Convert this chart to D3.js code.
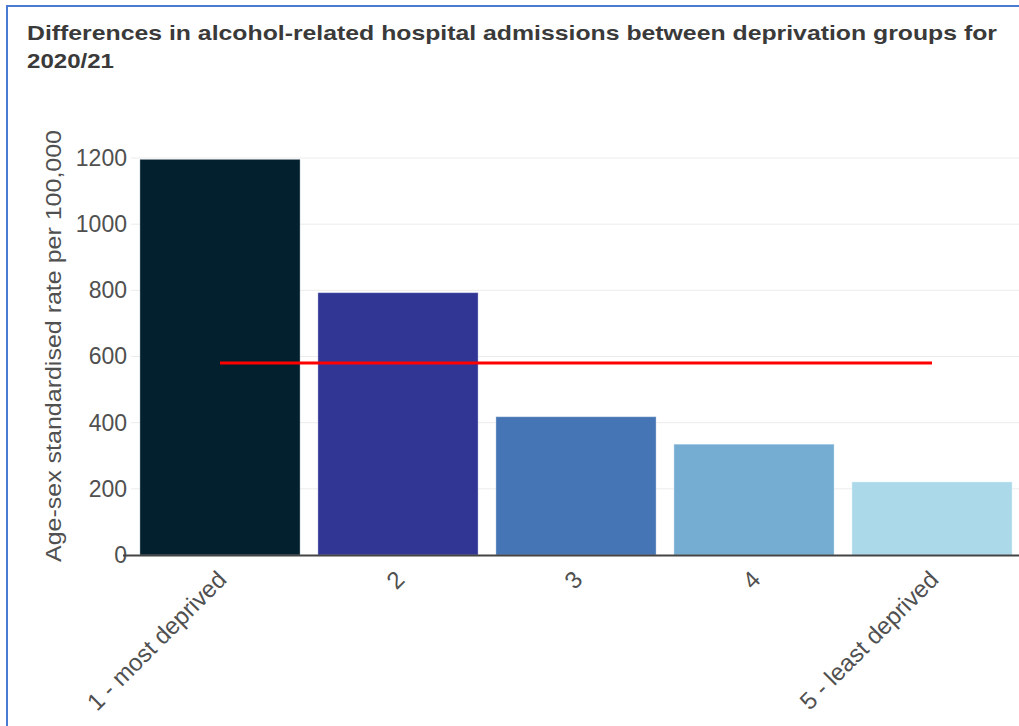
<!DOCTYPE html>
<html>
<head>
<meta charset="utf-8">
<script src="https://cdn.jsdelivr.net/npm/d3@7"></script>
<style>
  html, body { margin: 0; padding: 0; background: #fff; }
  svg { display: block; font-family: "Liberation Sans", Arial, sans-serif; }
</style>
</head>
<body>
<svg id="chart" width="1019" height="726"></svg>
<script>
// Deprivation quintiles and their age-sex standardised admission rates
const groups = ["1 - most deprived", "2", "3", "4", "5 - least deprived"];
const rates = [1196, 793, 418, 335, 221];
const barColors = ["#03202f", "#313695", "#4575b4", "#74add1", "#abd9e9"];
const overallRate = [580];
const yTicks = [0, 200, 400, 600, 800, 1000, 1200];

const titleLines = [
  "Differences in alcohol-related hospital admissions between deprivation groups for",
  "2020/21"
];
const titleWidths = [970, 87];
const yTitle = "Age-sex standardised rate per 100,000";

const svg = d3.select("#chart");
const W = 1019, H = 726;

// panel frame (top and left edges)
svg.append("line").attr("x1", 6).attr("x2", W).attr("y1", 6).attr("y2", 6)
  .attr("stroke", "#4a7bd0").attr("stroke-width", 2);
svg.append("line").attr("x1", 7).attr("x2", 7).attr("y1", 5).attr("y2", H)
  .attr("stroke", "#4a7bd0").attr("stroke-width", 2);

// title
svg.append("g").selectAll("text").data(titleLines).join("text")
  .attr("x", 27).attr("y", (d, i) => 40 + i * 28)
  .attr("fill", "#3a3a3a").attr("font-weight", "bold").attr("font-size", 21)
  .attr("textLength", (d, i) => titleWidths[i])
  .attr("lengthAdjust", "spacingAndGlyphs")
  .text(d => d);

const plot = { left: 131, right: 1021, top: 158, bottom: 555 };

const x = d3.scaleBand().domain(groups).range([plot.left, plot.right])
  .paddingInner(0.1).paddingOuter(0.05);
const y = d3.scaleLinear().domain([0, 1200]).range([plot.bottom, plot.top]);

// gridlines
svg.append("g").selectAll("line").data(yTicks.filter(t => t > 0)).join("line")
  .attr("x1", plot.left).attr("x2", W)
  .attr("y1", d => y(d)).attr("y2", d => y(d))
  .attr("stroke", "#ececec").attr("stroke-width", 1);

// y axis labels
const yAxis = d3.axisLeft(y).tickValues(yTicks).tickSize(0).tickPadding(4).tickFormat(d3.format("d"));
const yg = svg.append("g").attr("transform", `translate(${plot.left},0)`).call(yAxis);
yg.select(".domain").remove();
yg.selectAll("text").attr("font-size", 23).attr("fill", "#505050")
  .attr("font-family", "Liberation Sans, Arial, sans-serif");

// bars
svg.append("g").selectAll("rect").data(groups).join("rect")
  .attr("x", d => x(d)).attr("width", x.bandwidth())
  .attr("y", (d, i) => y(rates[i]))
  .attr("height", (d, i) => y(0) - y(rates[i]))
  .attr("fill", (d, i) => barColors[i])
  .attr("stroke", "rgba(255,255,255,0.35)").attr("stroke-width", 1);

// x axis baseline
svg.append("line").attr("x1", plot.left - 8).attr("x2", W)
  .attr("y1", y(0) + 0.5).attr("y2", y(0) + 0.5)
  .attr("stroke", "#444").attr("stroke-width", 2);

// overall average line spanning first to last group centre
svg.append("line")
  .attr("x1", x(groups[0]) + x.bandwidth() / 2)
  .attr("x2", x(groups[groups.length - 1]) + x.bandwidth() / 2)
  .attr("y1", y(overallRate[0])).attr("y2", y(overallRate[0]))
  .attr("stroke", "#ff0000").attr("stroke-width", 3);

// x axis labels, rotated
svg.append("g").selectAll("text").data(groups).join("text")
  .attr("transform", d => `translate(${x(d) + x.bandwidth() / 2 + 8},${plot.bottom + 26}) rotate(-45)`)
  .attr("text-anchor", "end")
  .attr("font-size", 24).attr("fill", "#505050")
  .text(d => d);

// y axis title
svg.append("text")
  .attr("transform", `translate(61,346) rotate(-90)`)
  .attr("text-anchor", "middle")
  .attr("font-size", 22).attr("fill", "#505050")
  .attr("textLength", 432).attr("lengthAdjust", "spacingAndGlyphs")
  .text(yTitle);
</script>
</body>
</html>
